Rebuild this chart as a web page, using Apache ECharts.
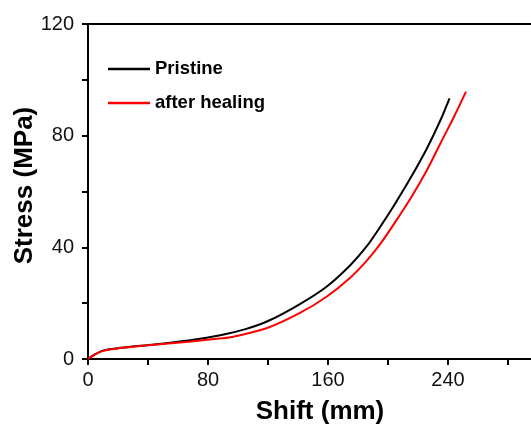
<!DOCTYPE html>
<html>
<head>
<meta charset="utf-8">
<script src="https://cdn.jsdelivr.net/npm/echarts@6/dist/echarts.min.js"></script>
<style>
  html, body { margin: 0; padding: 0; background: #fff; overflow: hidden; }
  /* 原图右侧被裁掉, 画布比窗口宽 */
  #app { width: 568px; height: 426px; }
</style>
</head>
<body>
<div id="app"></div>
<script>
// 读图得到的数据 (shift mm, stress MPa)
const seriesNames = ["Pristine", "after healing"];
const pristine = [
  [0, 0], [4, 1.5], [10, 3.0], [22, 4.0], [44, 5.2], [67, 6.6], [89, 8.6],
  [105, 10.7], [120, 13.6], [141, 19.6], [159, 25.9], [175, 33.7],
  [186, 40.5], [195, 47.5], [204, 55.0], [215, 64.8], [226, 75.5],
  [235, 85.6], [241, 93.4]
];
const healed = [
  [0, 0], [4, 1.4], [10, 2.9], [22, 3.9], [44, 5.1], [67, 6.2], [89, 7.4],
  [97, 8.0], [119, 11.0], [141, 16.4], [159, 22.3], [175, 29.2],
  [186, 35.3], [195, 41.3], [204, 48.4], [215, 57.5], [226, 67.7],
  [235, 77.3], [244, 86.8], [252, 95.8]
];
const xLabels = [0, 80, 160, 240];
const yLabels = [0, 40, 80, 120];

const font = "'Liberation Sans', Arial, sans-serif";
const dom = document.getElementById("app");
const myChart = echarts.init(dom);
let option = {
  animation: false,
  grid: {
    left: 88,
    top: 24,
    bottom: 67,
    right: 0,
    containLabel: false,
    outerBoundsMode: "none",
    show: true,
    borderColor: "#000",
    borderWidth: 2,
  },
  legend: {
    orient: "vertical",
    left: 103,
    top: 54,
    icon: "rect",
    itemWidth: 42,
    itemHeight: 2.5,
    itemGap: 14,
    data: seriesNames,
    textStyle: {
      fontFamily: font,
      fontWeight: "bold",
      fontSize: 18.5,
      lineHeight: 20,
      color: "#000",
    },
  },
  xAxis: {
    type: "value",
    min: 0,
    max: 320,
    interval: 40,
    name: "Shift (mm)",
    nameLocation: "middle",
    nameGap: 40,
    nameMoveOverlap: false,
    nameTextStyle: {
      fontFamily: font,
      fontWeight: "bold",
      fontSize: 26,
      color: "#000",
      padding: [0, 16, 0, 0],
    },
    axisLine: { lineStyle: { color: "#000", width: 2 } },
    axisTick: { inside: false, length: 6, lineStyle: { color: "#000", width: 2 } },
    axisLabel: {
      fontFamily: font,
      fontSize: 20,
      color: "#111",
      margin: 11,
      formatter: (v) => (xLabels.includes(v) ? String(v) : ""),
    },
    splitLine: { show: false },
  },
  yAxis: {
    type: "value",
    min: 0,
    max: 120,
    interval: 20,
    name: "Stress (MPa)",
    nameLocation: "middle",
    nameGap: 50,
    nameMoveOverlap: false,
    nameTextStyle: {
      fontFamily: font,
      fontWeight: "bold",
      fontSize: 26,
      color: "#000",
      padding: [0, 0, 0, 12],
    },
    axisLine: { lineStyle: { color: "#000", width: 2 } },
    axisTick: { inside: false, length: 6, lineStyle: { color: "#000", width: 2 } },
    axisLabel: {
      fontFamily: font,
      fontSize: 20,
      color: "#111",
      margin: 14,
      formatter: (v) => (yLabels.includes(v) ? String(v) : ""),
    },
    splitLine: { show: false },
  },
  series: [
    {
      name: seriesNames[0],
      type: "line",
      data: pristine,
      smooth: 0.3,
      symbol: "none",
      color: "#000",
      lineStyle: { color: "#000", width: 2 },
    },
    {
      name: seriesNames[1],
      type: "line",
      data: healed,
      smooth: 0.3,
      symbol: "none",
      color: "#ff0000",
      lineStyle: { color: "#ff0000", width: 2 },
    },
  ],
};
myChart.setOption(option);
</script>
</body>
</html>
